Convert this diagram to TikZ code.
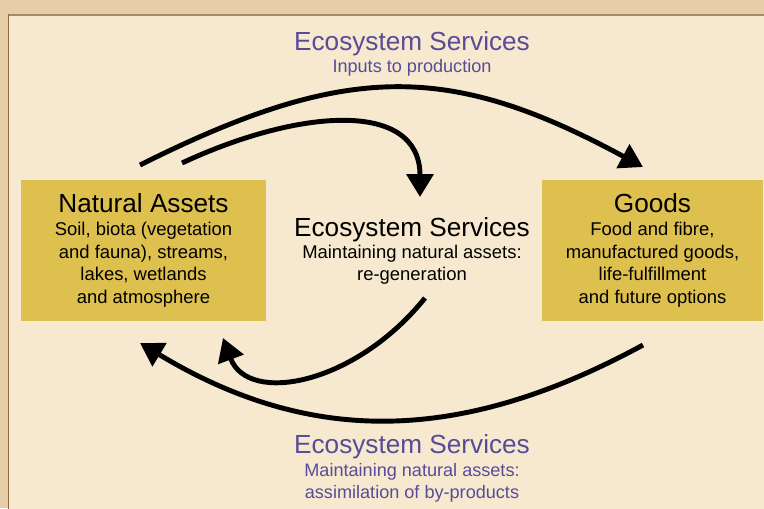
\documentclass[tikz,border=0pt]{standalone}
\usepackage{fontspec}
\setmainfont{Liberation Sans}
\usetikzlibrary{arrows.meta,positioning}

\definecolor{outerbg}{RGB}{230,206,168}
\definecolor{panelbg}{RGB}{247,233,207}
\definecolor{topline}{RGB}{168,140,104}
\definecolor{leftline}{RGB}{139,107,58}
\definecolor{boxgold}{RGB}{222,192,78}
\definecolor{servpurple}{RGB}{88,76,152}

\newcommand{\headfont}{\fontsize{14.9}{17}\selectfont}

\begin{document}
\begin{tikzpicture}
		% styles for the boxes, the service labels and the flows
		[x=0.02cm, y=-0.02cm,
		asset/.style={fill=boxgold, minimum height=2.82cm, inner sep=0pt, align=center,
			font=\fontsize{10.5}{12.9}\selectfont},
		service/.style={text=servpurple, align=center, font=\fontsize{10.3}{12.6}\selectfont},
		middle/.style={align=center, font=\fontsize{10.5}{12.6}\selectfont},
		flow/.style={line width=2.8pt, -{Triangle[length=13pt,width=15pt]}}]
	
		% Background and panel
		\useasboundingbox (0,0) rectangle (764,508);
		\fill[outerbg] (0,0) rectangle (764,508);
		\fill[panelbg] (8,14) rectangle (770,515);
		\draw[topline, line width=1.2pt] (8,14.6) -- (770,14.6);
		\draw[leftline, line width=0.9pt] (8.6,14) -- (8.6,515);
		
		% The two boxes
		\node[asset, minimum width=4.9cm] (assets) at (143.5,250.5)
			{{\headfont Natural Assets}\\Soil, biota (vegetation\\and fauna), streams,\\lakes, wetlands\\and atmosphere};
		\node[asset, minimum width=4.42cm] (goods) at (652.5,250.5)
			{{\headfont Goods}\\Food and fibre,\\manufactured goods,\\life-fulfillment\\and future options};
		
		% The three kinds of ecosystem services
		\node[service] (inputs) at (412,54)
			{{\headfont Ecosystem Services}\\Inputs to production};
		\node[middle] (regen) at (412,251)
			{{\headfont Ecosystem Services}\\Maintaining natural assets:\\re-generation};
		\node[service] (assim) at (412,468.5)
			{{\headfont Ecosystem Services}\\Maintaining natural assets:\\assimilation of by-products};
		
		% End points of the flows
		\coordinate (assets-a) at (140,165);
		\coordinate (assets-b) at (182,163);
		\coordinate (assets-c) at (223,338);
		\coordinate (assets-d) at (140,343);
		\coordinate (goods-a) at (643,167);
		\coordinate (goods-d) at (643,345);
		\coordinate (regen-top) at (420,197);
		\coordinate (regen-bot) at (425,298);
		
		% Top flows first
		\draw[flow] (assets-a) .. controls (346,62) and (449,62) .. (goods-a);
		\draw[flow] (assets-b) .. controls (300,108) and (420,100) .. (regen-top);
		% Now the flows back to the natural assets
		\draw[flow] (regen-bot) .. controls (355,385) and (248,405) .. (assets-c);
		\draw[flow] (goods-d) .. controls (459,445) and (309,445) .. (assets-d);
	\end{tikzpicture}
\end{document}
